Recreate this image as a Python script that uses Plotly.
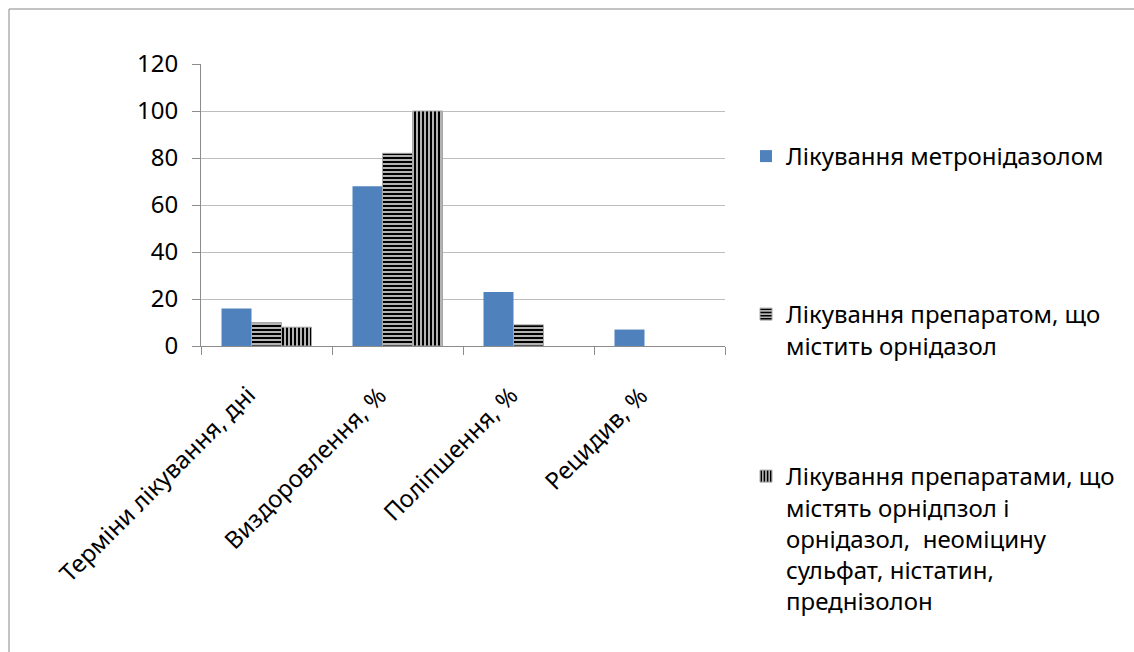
import plotly.graph_objects as go

# Categories and series values
categories = ["Терміни лікування, дні", "Виздоровлення, %", "Поліпшення, %", "Рецидив, %"]
series_names = [
    "Лікування метронідазолом",
    "Лікування препаратом, що<br>містить орнідазол",
    "Лікування препаратами, що<br>містять орнідпзол і<br>орнідазол,  неоміцину<br>сульфат, ністатин,<br>преднізолон",
]
metronidazole = [16, 68, 23, 7]
ornidazole = [10, 82, 9, None]
combined = [8, 100, None, None]
y_ticks = [0, 20, 40, 60, 80, 100, 120]

W, H = 1134, 652
FONT = "Noto Sans"
BORDER = "#878787"
AXIS = "#8C8C8C"

fig = go.Figure()
fig.add_trace(go.Bar(
    x=categories, y=metronidazole, name=series_names[0], legend="legend",
    marker=dict(color="#4F81BD", line=dict(width=0)),
))
fig.add_trace(go.Bar(
    x=categories, y=ornidazole, name=series_names[1], legend="legend2",
    marker=dict(color="white", line=dict(color="#A6A6A6", width=1),
                pattern=dict(shape="-", fgcolor="black", bgcolor="white",
                             fgopacity=1, size=4, solidity=0.65)),
))
fig.add_trace(go.Bar(
    x=categories, y=combined, name=series_names[2], legend="legend3",
    marker=dict(color="white", line=dict(color="#A6A6A6", width=1),
                pattern=dict(shape="|", fgcolor="black", bgcolor="white",
                             fgopacity=1, size=4, solidity=0.65)),
))


def legend_box(top_px):
    return dict(
        x=746 / W, y=1 - top_px / H, xanchor="left", yanchor="top",
        font=dict(family=FONT, size=24, color="black"),
        valign="top", bgcolor="rgba(0,0,0,0)",
    )


# category labels, rotated under the axis
label_font = dict(family=FONT, size=24, color="black")
cat_labels = [
    dict(x=c, xref="x", y=1 - 376 / H, yref="paper", text=c, showarrow=False,
         textangle=-45, xanchor="right", yanchor="top", xshift=-2, font=label_font)
    for c in categories
]

fig.update_layout(
    width=W, height=H, autosize=False,
    margin=dict(l=0, r=0, t=0, b=0),
    paper_bgcolor="white", plot_bgcolor="white",
    font=dict(family=FONT, color="black", size=22),
    barmode="group", bargap=0.313, bargroupgap=0,
    showlegend=True,
    legend=legend_box(134),
    legend2=legend_box(292),
    legend3=legend_box(454),
    xaxis=dict(
        domain=[201 / W, 725 / W], type="category",
        categoryorder="array", categoryarray=categories,
        range=[-0.5, len(categories) - 0.5], autorange=False,
        showline=True, linecolor=AXIS, linewidth=1,
        ticks="outside", tickson="boundaries", ticklen=8, tickcolor=AXIS,
        showgrid=False, showticklabels=False,
        automargin=False,
    ),
    yaxis=dict(
        domain=[1 - 346 / H, 1 - 64 / H], range=[0, 120], autorange=False,
        tickvals=y_ticks, ticktext=[str(v) for v in y_ticks],
        showgrid=True, gridcolor="#BDBDBD", gridwidth=1, zeroline=False,
        showline=True, linecolor=AXIS, linewidth=1,
        ticks="outside", ticklen=8, tickcolor=AXIS, ticklabelstandoff=9,
        tickfont=dict(family=FONT, size=24, color="black"),
        automargin=False,
    ),
    annotations=cat_labels,
    # chart-area frame: left and top edges
    shapes=[
        dict(type="line", xref="paper", yref="paper",
             x0=9 / W, x1=9 / W, y0=0, y1=1 - 9 / H,
             line=dict(color=BORDER, width=1), layer="below"),
        dict(type="line", xref="paper", yref="paper",
             x0=9 / W, x1=1, y0=1 - 9 / H, y1=1 - 9 / H,
             line=dict(color=BORDER, width=1), layer="below"),
    ],
)

# keep the page to exactly the figure size, without scrollbars
page_js = (
    "document.documentElement.style.overflow='hidden';"
    "document.body.style.overflow='hidden';"
    "document.body.style.margin='0';"
)
fig.write_html("out.html", post_script=page_js)
